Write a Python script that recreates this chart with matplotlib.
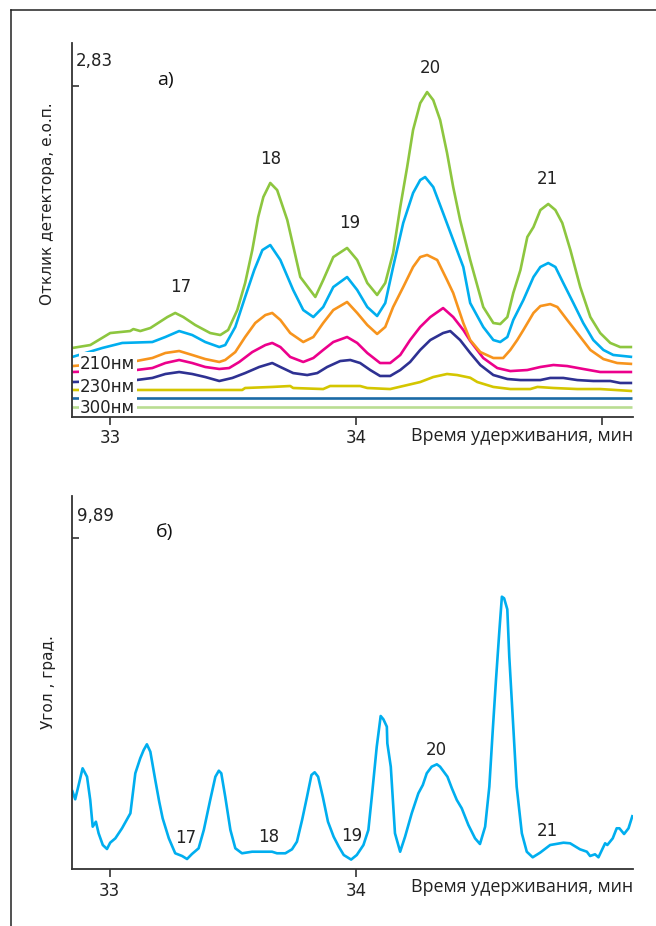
import matplotlib.pyplot as plt
from matplotlib.lines import Line2D
from matplotlib.patches import Rectangle

# ---- a) detector response, several wavelengths (time in min, response in e.o.p.)
t_green = [32.847, 32.920, 33.001, 33.082, 33.095, 33.123, 33.164, 33.233, 33.265, 33.298,
           33.346, 33.407, 33.448, 33.480, 33.517, 33.549, 33.578, 33.602, 33.623, 33.651,
           33.679, 33.720, 33.773, 33.834, 33.866, 33.907, 33.963, 34.004, 34.045, 34.085,
           34.118, 34.150, 34.179, 34.207, 34.231, 34.260, 34.288, 34.313, 34.341, 34.369,
           34.394, 34.422, 34.463, 34.516, 34.557, 34.585, 34.614, 34.638, 34.667, 34.695,
           34.720, 34.748, 34.780, 34.809, 34.837, 34.870, 34.910, 34.951, 34.991, 35.032,
           35.072, 35.121]
v_green = [0.589, 0.614, 0.717, 0.734, 0.751, 0.734, 0.760, 0.854, 0.889, 0.854,
           0.786, 0.717, 0.700, 0.743, 0.914, 1.146, 1.428, 1.711, 1.883, 2.003,
           1.942, 1.686, 1.197, 1.026, 1.171, 1.368, 1.446, 1.343, 1.146, 1.043,
           1.146, 1.403, 1.797, 2.140, 2.457, 2.687, 2.782, 2.713, 2.542, 2.260,
           1.968, 1.686, 1.343, 0.940, 0.803, 0.794, 0.854, 1.060, 1.257, 1.540,
           1.625, 1.771, 1.823, 1.771, 1.660, 1.428, 1.111, 0.854, 0.717, 0.632,
           0.597, 0.597]

t_cyan = [32.847, 32.969, 33.050, 33.172, 33.225, 33.281, 33.334, 33.387, 33.444, 33.468,
          33.509, 33.549, 33.586, 33.619, 33.651, 33.692, 33.744, 33.785, 33.826, 33.866,
          33.907, 33.963, 34.004, 34.045, 34.085, 34.118, 34.150, 34.191, 34.231, 34.260,
          34.280, 34.313, 34.353, 34.394, 34.435, 34.463, 34.516, 34.557, 34.585, 34.614,
          34.638, 34.679, 34.720, 34.748, 34.780, 34.809, 34.841, 34.882, 34.922, 34.963,
          35.004, 35.044, 35.121]
v_cyan = [0.512, 0.589, 0.632, 0.640, 0.683, 0.734, 0.700, 0.640, 0.597, 0.614,
          0.769, 1.026, 1.257, 1.428, 1.471, 1.343, 1.086, 0.914, 0.854, 0.940,
          1.111, 1.197, 1.086, 0.940, 0.863, 0.974, 1.283, 1.660, 1.917, 2.028,
          2.054, 1.968, 1.745, 1.514, 1.283, 0.974, 0.769, 0.657, 0.640, 0.683,
          0.829, 1.000, 1.197, 1.283, 1.317, 1.283, 1.146, 0.974, 0.803, 0.657,
          0.572, 0.529, 0.512]

t_orange = [32.847, 33.107, 33.172, 33.225, 33.281, 33.334, 33.387, 33.444, 33.468, 33.509,
            33.549, 33.590, 33.631, 33.659, 33.692, 33.732, 33.785, 33.826, 33.866, 33.907,
            33.963, 34.004, 34.045, 34.085, 34.118, 34.150, 34.191, 34.231, 34.260, 34.288,
            34.329, 34.369, 34.394, 34.435, 34.463, 34.504, 34.557, 34.597, 34.626, 34.654,
            34.679, 34.720, 34.748, 34.788, 34.817, 34.857, 34.898, 34.951, 35.004, 35.060,
            35.121]
v_orange = [0.434, 0.477, 0.503, 0.546, 0.563, 0.529, 0.494, 0.469, 0.486, 0.554,
            0.683, 0.803, 0.871, 0.889, 0.829, 0.717, 0.640, 0.683, 0.803, 0.914,
            0.983, 0.889, 0.786, 0.709, 0.769, 0.940, 1.111, 1.283, 1.368, 1.386,
            1.343, 1.171, 1.060, 0.803, 0.657, 0.554, 0.503, 0.503, 0.572, 0.657,
            0.743, 0.889, 0.948, 0.965, 0.940, 0.829, 0.717, 0.572, 0.494, 0.460,
            0.452]

t_magenta = [32.847, 33.107, 33.172, 33.225, 33.281, 33.334, 33.387, 33.444, 33.484, 33.525,
             33.578, 33.631, 33.659, 33.692, 33.732, 33.785, 33.826, 33.866, 33.907, 33.963,
             34.004, 34.045, 34.097, 34.138, 34.179, 34.219, 34.260, 34.301, 34.353, 34.394,
             34.435, 34.463, 34.516, 34.573, 34.626, 34.695, 34.748, 34.801, 34.857, 34.922,
             34.991, 35.121]
v_magenta = [0.383, 0.400, 0.417, 0.460, 0.486, 0.460, 0.426, 0.409, 0.417, 0.469,
             0.554, 0.614, 0.632, 0.597, 0.512, 0.469, 0.503, 0.572, 0.640, 0.683,
             0.632, 0.546, 0.460, 0.460, 0.529, 0.657, 0.769, 0.854, 0.931, 0.854,
             0.743, 0.650, 0.503, 0.417, 0.391, 0.400, 0.426, 0.443, 0.434, 0.409,
             0.383, 0.383]

t_navy = [32.847, 33.107, 33.172, 33.225, 33.281, 33.334, 33.387, 33.444, 33.497, 33.549,
          33.606, 33.659, 33.692, 33.744, 33.801, 33.842, 33.882, 33.935, 33.976, 34.016,
          34.057, 34.097, 34.138, 34.179, 34.219, 34.260, 34.301, 34.353, 34.382, 34.422,
          34.463, 34.504, 34.557, 34.614, 34.667, 34.748, 34.788, 34.841, 34.898, 34.963,
          35.032, 35.072, 35.121]
v_navy = [0.297, 0.314, 0.332, 0.366, 0.383, 0.366, 0.340, 0.306, 0.332, 0.374,
          0.426, 0.460, 0.426, 0.374, 0.357, 0.374, 0.426, 0.477, 0.486, 0.460,
          0.400, 0.349, 0.349, 0.400, 0.469, 0.572, 0.657, 0.717, 0.734, 0.657,
          0.546, 0.443, 0.357, 0.323, 0.314, 0.314, 0.332, 0.332, 0.314, 0.306,
          0.306, 0.289, 0.289]

t_yellow = [32.847, 33.537, 33.549, 33.659, 33.732, 33.744, 33.866, 33.894, 34.016, 34.045,
            34.138, 34.191, 34.260, 34.313, 34.369, 34.410, 34.463, 34.492, 34.557, 34.626,
            34.707, 34.736, 34.801, 34.898, 34.991, 35.121]
v_yellow = [0.229, 0.229, 0.246, 0.255, 0.263, 0.246, 0.237, 0.263, 0.263, 0.246,
            0.237, 0.263, 0.297, 0.340, 0.366, 0.357, 0.334, 0.297, 0.255, 0.237,
            0.237, 0.255, 0.246, 0.237, 0.237, 0.220]

t_flat = [32.847, 35.121]
v_darkblue = [0.160, 0.160]
v_lightgreen = [0.083, 0.083]

wave_labels = ['210нм', '230нм', '300нм']
wave_label_y = [0.452, 0.255, 0.075]

peaks_a = ['17', '18', '19', '20', '21']
peaks_a_t = [33.288, 33.651, 33.972, 34.300, 34.775]
peaks_a_v = [1.111, 2.208, 1.660, 2.988, 2.037]

# ---- b) angle, degrees
t_angle = [32.847, 32.860, 32.874, 32.890, 32.908, 32.921, 32.931, 32.944, 32.955, 32.972,
           32.989, 33.002, 33.023, 33.050, 33.084, 33.104, 33.124, 33.138, 33.151, 33.165,
           33.185, 33.201, 33.215, 33.240, 33.266, 33.294, 33.314, 33.334, 33.361, 33.382,
           33.408, 33.429, 33.443, 33.453, 33.469, 33.490, 33.510, 33.537, 33.578, 33.659,
           33.679, 33.713, 33.740, 33.760, 33.781, 33.801, 33.819, 33.832, 33.846, 33.865,
           33.886, 33.909, 33.930, 33.950, 33.980, 34.003, 34.030, 34.050, 34.064, 34.084,
           34.100, 34.111, 34.125, 34.127, 34.141, 34.158, 34.179, 34.199, 34.226, 34.253,
           34.271, 34.287, 34.307, 34.328, 34.341, 34.371, 34.389, 34.409, 34.429, 34.456,
           34.483, 34.503, 34.524, 34.541, 34.555, 34.568, 34.582, 34.592, 34.601, 34.614,
           34.622, 34.639, 34.652, 34.673, 34.693, 34.717, 34.747, 34.788, 34.842, 34.869,
           34.909, 34.937, 34.950, 34.970, 34.984, 35.011, 35.020, 35.042, 35.058, 35.069,
           35.088, 35.106, 35.123]
v_angle = [2.367, 2.090, 2.516, 3.015, 2.764, 2.069, 1.272, 1.421, 1.075, 0.725,
           0.606, 0.794, 0.925, 1.224, 1.672, 2.866, 3.313, 3.561, 3.731, 3.510,
           2.666, 2.018, 1.522, 0.925, 0.478, 0.397, 0.307, 0.457, 0.627, 1.173,
           2.069, 2.764, 2.943, 2.866, 2.167, 1.173, 0.627, 0.478, 0.525, 0.525,
           0.478, 0.478, 0.597, 0.824, 1.472, 2.167, 2.815, 2.896, 2.764, 2.167,
           1.421, 0.973, 0.675, 0.427, 0.290, 0.427, 0.725, 1.173, 2.167, 3.660,
           4.576, 4.478, 4.257, 3.761, 3.063, 1.075, 0.525, 0.973, 1.672, 2.269,
           2.516, 2.866, 3.063, 3.134, 3.063, 2.764, 2.418, 2.069, 1.821, 1.322,
           0.925, 0.755, 1.272, 2.466, 4.158, 5.651, 7.143, 8.137, 8.090, 7.761,
           6.346, 4.158, 2.466, 1.075, 0.525, 0.358, 0.496, 0.725, 0.794, 0.776,
           0.597, 0.525, 0.397, 0.448, 0.358, 0.776, 0.725, 0.925, 1.224, 1.224,
           1.054, 1.224, 1.621]

peaks_b = ['17', '18', '19', '20', '21']
peaks_b_t = [33.309, 33.647, 33.984, 34.325, 34.775]
peaks_b_v = [0.934, 0.964, 0.994, 3.561, 1.143]

xmin, xmax = 32.847, 35.123
spine_col = '#333333'
lw = 1.9

fig = plt.figure(figsize=(6.56, 9.26), dpi=100)

# outer frame (top and left edges only are inside the picture)
fig.add_artist(Line2D([11/656, 11/656], [0, 1 - 10/926], transform=fig.transFigure,
                      color='#222222', lw=1.1))
fig.add_artist(Line2D([11/656, 1], [1 - 10/926, 1 - 10/926], transform=fig.transFigure,
                      color='#222222', lw=1.1))


def style_axes(ax, ytick, ymax, xticks, xlabels):
    ax.set_xlim(xmin, xmax)
    ax.set_ylim(0, ymax)
    for s in ['top', 'right']:
        ax.spines[s].set_visible(False)
    for s in ['left', 'bottom']:
        ax.spines[s].set_color(spine_col)
        ax.spines[s].set_linewidth(1.3)
    ax.set_yticks([ytick])
    ax.set_yticklabels([''])
    ax.tick_params(axis='y', direction='in', length=5, width=1.2, color=spine_col)
    ax.set_xticks(xticks)
    ax.set_xticklabels(xlabels)
    ax.tick_params(axis='x', direction='out', length=6, width=1.2, color=spine_col,
                   labelsize=12, pad=3, labelcolor='#222222')


# ---------------- a)
ax1 = fig.add_axes([72.3/656, 1 - 416.7/926, 560.4/656, 374/926])
style_axes(ax1, 2.83, 3.205, [33, 34, 35], ['33', '34', ''])

line_kw = dict(lw=lw, solid_joinstyle='round', solid_capstyle='butt')
ax1.plot(t_flat, v_lightgreen, color='#b9dd92', **line_kw)
ax1.plot(t_flat, v_darkblue, color='#1a6aa6', **line_kw)
ax1.plot(t_yellow, v_yellow, color='#d4c600', **line_kw)
ax1.plot(t_navy, v_navy, color='#2e3192', **line_kw)
ax1.plot(t_magenta, v_magenta, color='#ec008c', **line_kw)
ax1.plot(t_orange, v_orange, color='#f7941d', **line_kw)
ax1.plot(t_cyan, v_cyan, color='#00aeef', **line_kw)
ax1.plot(t_green, v_green, color='#8dc63f', **line_kw)

# white patch under the wavelength labels
ax1.add_patch(Rectangle((32.875, 0.03), 0.236, 0.524, facecolor='white',
                        edgecolor='none', zorder=3))
for lab, yv in zip(wave_labels, wave_label_y):
    ax1.text(32.878, yv, lab, fontsize=12, color='#222222', ha='left', va='center', zorder=4)

for lab, tx, ty in zip(peaks_a, peaks_a_t, peaks_a_v):
    ax1.text(tx, ty, lab, fontsize=12, color='#222222', ha='center', va='center')

ax1.text(32.863, 3.048, '2,83', fontsize=12, color='#222222', ha='left', va='center')

# ---------------- b)
ax2 = fig.add_axes([72/656, 1 - 869.3/926, 560.7/656, 373.3/926])
style_axes(ax2, 9.89, 11.143, [33, 34], ['33', '34'])

ax2.plot(t_angle, v_angle, color='#00aeef', **line_kw)

for lab, tx, ty in zip(peaks_b, peaks_b_t, peaks_b_v):
    ax2.text(tx, ty, lab, fontsize=12, color='#222222', ha='center', va='center')

ax2.text(32.867, 10.54, '9,89', fontsize=12, color='#222222', ha='left', va='center')

# labels
fig.text(48/656, 1 - 204/926, 'Отклик детектора, е.о.п.', rotation=90, fontsize=11,
         color='#222222', ha='center', va='center')
fig.text(48/656, 1 - 682/926, 'Угол , град.', rotation=90, fontsize=11,
         color='#222222', ha='center', va='center')
fig.text(632.7/656, 1 - 436/926, 'Время удерживания, мин', fontsize=12.9, family='Open Sans',
         color='#222222', ha='right', va='center')
fig.text(632.7/656, 1 - 887/926, 'Время удерживания, мин', fontsize=12.9, family='Open Sans',
         color='#222222', ha='right', va='center')
fig.text(165/656, 1 - 80/926, 'а)', fontsize=14, family='Open Sans', color='#111111',
         ha='center', va='center')
fig.text(165/656, 1 - 532/926, 'б)', fontsize=14, family='Open Sans', color='#111111',
         ha='center', va='center')

fig.savefig('out.png', dpi=100)
